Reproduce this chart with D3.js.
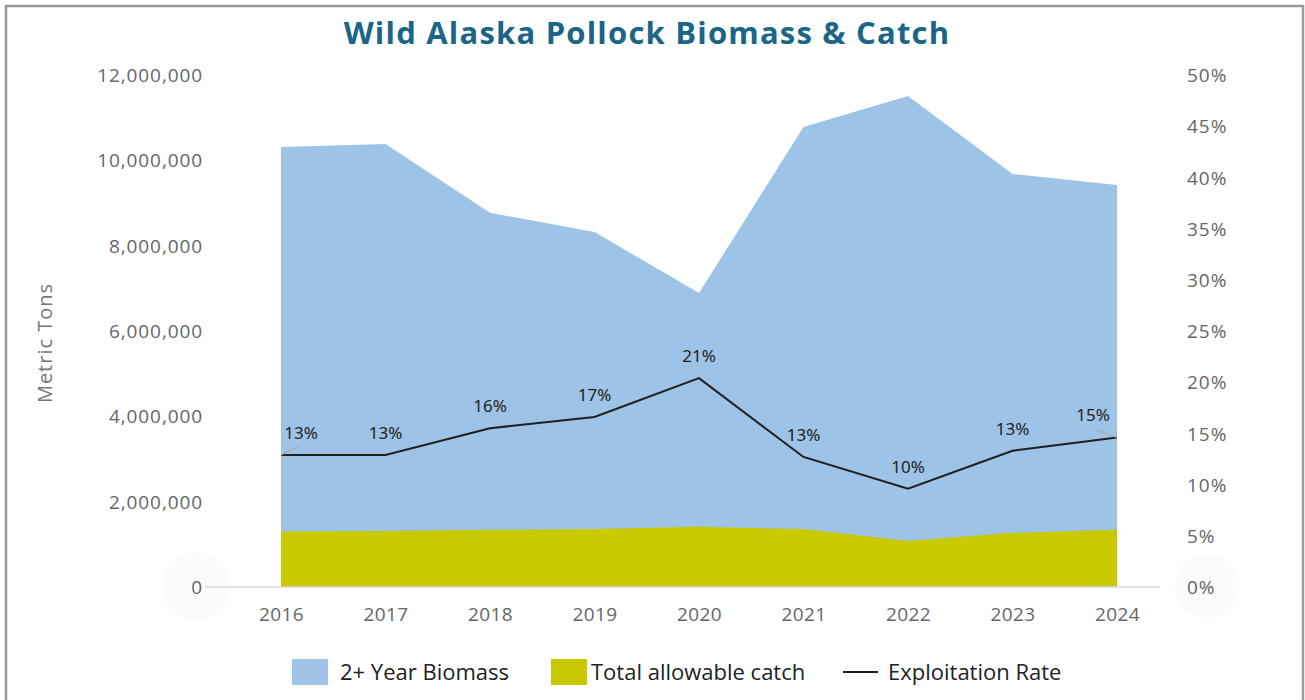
<!DOCTYPE html>
<html><head><meta charset="utf-8">
<script src="https://cdn.jsdelivr.net/npm/d3@7"></script>
<style>
html,body{margin:0;padding:0;background:#fff;}
svg{display:block;}
</style></head>
<body>
<svg id="chart" width="1305" height="700"></svg>
<script>
const years = [2016, 2017, 2018, 2019, 2020, 2021, 2022, 2023, 2024];
const biomass = [10310000, 10380000, 8770000, 8320000, 6890000, 10780000, 11510000, 9680000, 9420000];
const catchTAC = [1300000, 1310000, 1340000, 1360000, 1410000, 1360000, 1080000, 1270000, 1340000];
const exploitation = [0.129, 0.129, 0.155, 0.166, 0.204, 0.127, 0.096, 0.133, 0.146];
const rateLabels = ["13%", "13%", "16%", "17%", "21%", "13%", "10%", "13%", "15%"];
const leftTicks = [0, 2000000, 4000000, 6000000, 8000000, 10000000, 12000000];
const rightTicks = [0, 0.05, 0.10, 0.15, 0.20, 0.25, 0.30, 0.35, 0.40, 0.45, 0.50];
const legendItems = ["2+ Year Biomass", "Total allowable catch", "Exploitation Rate"];
const titleText = "Wild Alaska Pollock Biomass & Catch";
const yTitle = "Metric Tons";

const svg = d3.select("#chart");
const plot = {left: 281, right: 1117, top: 75, bottom: 587};

// frame
svg.append("rect").attr("x", 6).attr("y", 6).attr("width", 1297).attr("height", 710)
  .attr("fill", "#fff").attr("stroke", "#9a9a9a").attr("stroke-width", 2.5);

// faint watermark circles
svg.append("circle").attr("cx", 196).attr("cy", 586).attr("r", 34).attr("fill", "#fcfbfa");
svg.append("circle").attr("cx", 1207).attr("cy", 586).attr("r", 32).attr("fill", "#fdfafa");

const x = d3.scalePoint().domain(years).range([plot.left, plot.right]);
const yL = d3.scaleLinear().domain([0, 12000000]).range([plot.bottom, plot.top]);
const yR = d3.scaleLinear().domain([0, 0.5]).range([plot.bottom, plot.top]);

// title
svg.append("text").attr("x", 647).attr("y", 44).attr("text-anchor", "middle")
  .attr("font-family", "'Open Sans', sans-serif").attr("font-weight", 700)
  .attr("font-size", 31).attr("letter-spacing", 1.2).attr("fill", "#1b6586").text(titleText);

// areas
const idx = d3.range(years.length);
svg.append("path").datum(idx)
  .attr("d", d3.area().x(i => x(years[i])).y0(yL(0)).y1(i => yL(biomass[i])))
  .attr("fill", "#9dc3e6");
svg.append("path").datum(idx)
  .attr("d", d3.area().x(i => x(years[i])).y0(yL(0)).y1(i => yL(catchTAC[i])))
  .attr("fill", "#c9c900");

// baseline
svg.append("line").attr("x1", 205).attr("x2", 1160).attr("y1", yL(0)).attr("y2", yL(0))
  .attr("stroke", "#d9d9d9").attr("stroke-width", 1.5);

// left axis
const axL = d3.axisLeft(yL).tickValues(leftTicks).tickSize(0).tickPadding(0)
  .tickFormat(d3.format(","));
const gL = svg.append("g").attr("transform", "translate(203,0)").call(axL);
gL.select(".domain").remove();
gL.selectAll("text").attr("font-family", "'Open Sans', sans-serif").attr("font-size", 19)
  .attr("letter-spacing", 0.9).attr("fill", "#666").attr("dy", "0.35em");

// right axis
const axR = d3.axisRight(yR).tickValues(rightTicks).tickSize(0).tickPadding(0)
  .tickFormat(d3.format(".0%"));
const gR = svg.append("g").attr("transform", "translate(1187,0)").call(axR);
gR.select(".domain").remove();
gR.selectAll("text").attr("font-family", "'Open Sans', sans-serif").attr("font-size", 19)
  .attr("letter-spacing", 1).attr("fill", "#666").attr("dy", "0.35em");

// x axis
const axX = d3.axisBottom(x).tickSize(0).tickPadding(0).tickFormat(d3.format("d"));
const gX = svg.append("g").attr("transform", "translate(0,614)").call(axX);
gX.select(".domain").remove();
gX.selectAll("text").attr("font-family", "'Open Sans', sans-serif").attr("font-size", 19)
  .attr("letter-spacing", 0.4).attr("fill", "#666").attr("dy", "0.35em");

// y title
svg.append("text").attr("transform", "translate(52,343) rotate(-90)").attr("text-anchor", "middle")
  .attr("font-family", "'Open Sans', sans-serif").attr("font-size", 20).attr("letter-spacing", 1)
  .attr("fill", "#777").text(yTitle);

// exploitation line
svg.append("path").datum(idx)
  .attr("d", d3.line().x(i => x(years[i])).y(i => yR(exploitation[i])))
  .attr("fill", "none").attr("stroke", "#1f1f1f").attr("stroke-width", 2);

// labels
const labelOffsets = idx.map(i => i === 0 ? 20 : (i === years.length - 1 ? -24 : 0));
idx.forEach(i => {
  const px = x(years[i]), py = yR(exploitation[i]);
  const lx = px + labelOffsets[i];
  svg.append("text").attr("x", lx).attr("y", py - 22).attr("dy", "0.35em")
    .attr("text-anchor", "middle").attr("font-family", "'Noto Sans', sans-serif")
    .attr("font-size", 17).attr("fill", "#222").text(rateLabels[i]);
  if (labelOffsets[i] !== 0) {
    const ex = i === 0 ? px + 17 : px - 22;
    svg.append("line").attr("x1", px).attr("y1", py).attr("x2", ex).attr("y2", py - 8)
      .attr("stroke", "#a9a9a9").attr("stroke-width", 1.2);
  }
});

// legend
const lg = svg.append("g");
const legY = 672;
const legFont = {family: "'Open Sans', sans-serif", size: 22};
lg.append("rect").attr("x", 292).attr("y", legY - 13).attr("width", 36).attr("height", 26).attr("fill", "#9dc3e6");
lg.append("text").attr("x", 340).attr("y", legY).attr("dy", "0.35em")
  .attr("font-family", legFont.family).attr("font-size", legFont.size).attr("fill", "#222").text(legendItems[0]);
lg.append("rect").attr("x", 551).attr("y", legY - 13).attr("width", 36).attr("height", 26).attr("fill", "#c9c900");
lg.append("text").attr("x", 591).attr("y", legY).attr("dy", "0.35em")
  .attr("font-family", legFont.family).attr("font-size", legFont.size).attr("fill", "#222").text(legendItems[1]);
lg.append("line").attr("x1", 843).attr("x2", 878).attr("y1", legY).attr("y2", legY)
  .attr("stroke", "#1f1f1f").attr("stroke-width", 2);
lg.append("text").attr("x", 888).attr("y", legY).attr("dy", "0.35em")
  .attr("font-family", legFont.family).attr("font-size", legFont.size).attr("fill", "#222").text(legendItems[2]);
</script>
</body></html>
